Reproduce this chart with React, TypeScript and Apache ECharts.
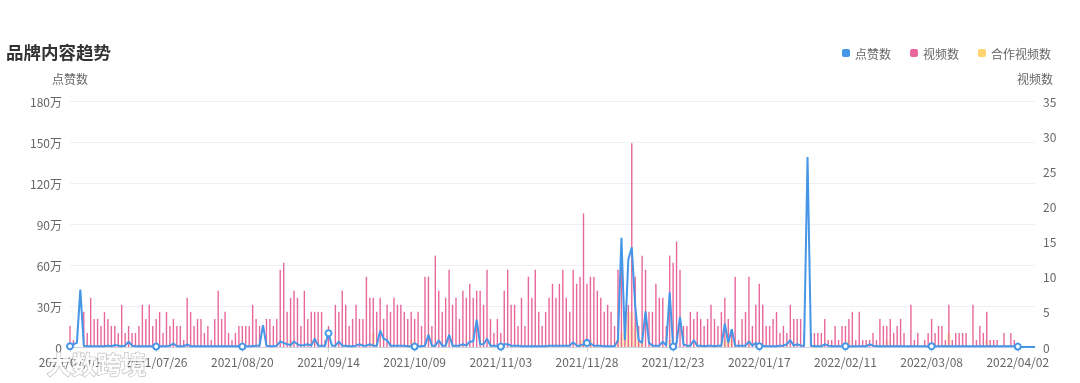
import React, { useEffect, useRef } from "react";
import * as echarts from "echarts";

const START_DATE = "2021-07-01";
const DAY_COUNT = 281;

// 视频数 (right axis), one value per day
const videoCounts: number[] = [
  3, 1, 0, 0, 5, 2, 7, 4, 4, 3,
  5, 4, 3, 3, 2, 6, 2, 3, 2, 2,
  3, 6, 4, 6, 3, 4, 5, 2, 5, 3,
  4, 3, 3, 1, 7, 5, 3, 4, 4, 2,
  3, 1, 4, 8, 4, 5, 2, 1, 2, 3,
  3, 3, 3, 6, 4, 3, 0, 4, 4, 3,
  4, 11, 12, 5, 7, 8, 7, 3, 8, 4,
  5, 5, 5, 5, 1, 3, 0, 6, 5, 8,
  6, 3, 4, 6, 4, 4, 10, 7, 7, 5,
  7, 4, 6, 5, 7, 6, 6, 5, 4, 5,
  4, 5, 3, 10, 10, 3, 13, 8, 5, 7,
  11, 6, 7, 4, 8, 7, 9, 7, 8, 8,
  6, 11, 4, 2, 4, 2, 8, 11, 6, 6,
  3, 7, 3, 10, 7, 11, 5, 3, 5, 7,
  9, 7, 9, 11, 7, 5, 11, 9, 10, 19,
  9, 10, 10, 8, 7, 5, 6, 5, 3, 11,
  12, 5, 6, 29, 10, 3, 13, 11, 5, 5,
  9, 7, 7, 3, 13, 12, 15, 11, 3, 3,
  5, 4, 5, 4, 3, 4, 6, 4, 3, 5,
  7, 4, 2, 10, 1, 4, 5, 10, 3, 6,
  9, 6, 3, 3, 4, 5, 2, 3, 2, 6,
  4, 4, 4, 2, 0, 2, 2, 2, 2, 4,
  1, 1, 3, 1, 3, 3, 4, 5, 1, 5,
  1, 1, 1, 2, 1, 4, 3, 3, 4, 2,
  3, 4, 2, 0, 6, 1, 2, 0, 1, 2,
  4, 2, 3, 3, 1, 6, 1, 2, 2, 2,
  2, 0, 6, 1, 3, 2, 5, 1, 1, 1,
  0, 2, 0, 2, 1, 0, 0, 0, 0, 0,
  0,
];

// 合作视频数 (right axis)
const coopCounts: number[] = [
  0, 0, 0, 0, 0, 0, 0, 0, 0, 0,
  0, 0, 0, 0, 0, 0, 0, 0, 0, 0,
  0, 0, 0, 0, 0, 0, 0, 0, 0, 0,
  0, 0, 0, 0, 0, 0, 0, 0, 0, 0,
  0, 0, 0, 0, 0, 0, 0, 0, 0, 0,
  0, 0, 0, 0, 0, 0, 0, 0, 0, 0,
  0, 0, 0, 0, 1, 0, 0, 0, 0, 0,
  0, 0, 0, 0, 0, 0, 0, 0, 0, 0,
  0, 0, 0, 0, 0, 0, 0, 0, 2, 0,
  0, 0, 0, 0, 0, 0, 0, 0, 0, 1,
  0, 0, 0, 0, 0, 0, 0, 0, 0, 0,
  0, 0, 0, 0, 0, 0, 0, 0, 0, 0,
  0, 0, 0, 0, 0, 0, 0, 0, 0, 0,
  0, 0, 0, 0, 0, 0, 0, 0, 0, 0,
  0, 0, 0, 0, 0, 0, 0, 0, 1, 1,
  1, 1, 0, 0, 0, 0, 0, 0, 0, 1,
  2, 4, 5, 5, 3, 1, 1, 0, 0, 0,
  0, 0, 0, 0, 1, 0, 0, 0, 0, 0,
  0, 0, 0, 0, 0, 0, 0, 0, 0, 0,
  1, 1, 1, 0, 0, 0, 0, 1, 0, 0,
  0, 0, 0, 0, 0, 0, 0, 0, 0, 0,
  0, 0, 0, 0, 0, 0, 0, 0, 0, 0,
  0, 0, 0, 0, 0, 0, 1, 0, 0, 0,
  0, 0, 0, 0, 0, 0, 0, 1, 0, 0,
  0, 0, 0, 0, 0, 0, 0, 0, 0, 0,
  0, 0, 0, 0, 0, 2, 0, 0, 0, 0,
  0, 0, 0, 0, 0, 0, 1, 0, 0, 0,
  0, 0, 0, 0, 0, 0, 0, 0, 0, 0,
  0,
];

// 点赞数 in 万 (left axis)
const likes: number[] = [
  0.5, 2, 3, 42, 1, 0.5, 0.5, 0.5, 0.5, 0.5,
  0.5, 1, 0.5, 1.5, 1, 0.5, 1, 4, 1, 0.5,
  0.5, 0.5, 0.5, 0.5, 0.5, 0.3, 0.5, 0.5, 0.5, 1,
  2.5, 0.5, 0.5, 0.5, 2, 0.5, 0.5, 0.5, 0.5, 0.5,
  0.5, 0.5, 0.5, 0.5, 0.5, 0.5, 0.5, 0.5, 0.5, 0.5,
  0.3, 0.5, 0.5, 0.5, 1, 1, 16, 1, 0.5, 0.5,
  1, 4, 3, 2, 1.5, 4, 2, 1, 1.5, 2,
  1, 6, 1, 1, 1, 10, 1, 1, 4, 1,
  1, 0.5, 0.5, 1, 2, 1, 1, 2, 1, 1,
  12, 6, 5, 1, 1, 1, 1, 1, 0.5, 0.5,
  0.3, 0.5, 0.5, 1, 9, 1, 1, 5, 1, 1,
  9, 1, 1, 1, 2, 1, 4, 4, 20, 2,
  2, 6, 1, 1, 1, 0.3, 2, 2, 1, 1,
  1, 0.5, 0.5, 0.5, 0.5, 0.5, 0.5, 0.5, 0.5, 1,
  1, 1, 1, 1, 1, 1, 3.5, 1, 1, 2,
  3, 2.5, 1, 1, 1, 0.5, 0.5, 0.5, 0.5, 5,
  80, 5, 64, 73, 30, 5, 3, 26, 3, 1,
  1, 1, 4, 1, 40, 0.3, 3, 22, 2, 1,
  1, 5, 1, 1, 0.5, 1, 1, 0.5, 1, 1,
  17, 3, 13, 1, 1, 1, 1, 4, 1, 3,
  0.5, 1, 0.5, 0.5, 0.5, 0.5, 1, 1, 2, 5,
  1, 2, 1, 1, 139, 1, 0.5, 0.5, 0.5, 2,
  1, 0.5, 0.5, 0.5, 0.5, 0.5, 0.3, 0.5, 0.5, 0.5,
  0.5, 0.5, 2, 1, 0.5, 0.5, 0.5, 0.5, 0.5, 0.5,
  0.5, 0.5, 0.5, 0.5, 0.5, 0.5, 0.5, 0.5, 0.5, 0.3,
  0.5, 0.5, 0.5, 0.5, 0.5, 0.5, 0.5, 0.5, 0.5, 0.5,
  0.5, 0.5, 0.5, 0.5, 0.5, 0.5, 0.5, 0.5, 0.5, 0.5,
  0.5, 0.5, 0.5, 0.5, 0.5, 0.3, 0, 0, 0, 0,
  0,
];

const leftTicks = { min: 0, max: 180, interval: 30 };
const rightTicks = { min: 0, max: 35, interval: 5 };

function buildDates(start: string, count: number): string[] {
  const out: string[] = [];
  const d = new Date(start + "T00:00:00Z");
  for (let i = 0; i < count; i++) {
    const y = d.getUTCFullYear();
    const m = String(d.getUTCMonth() + 1).padStart(2, "0");
    const day = String(d.getUTCDate()).padStart(2, "0");
    out.push(`${y}/${m}/${day}`);
    d.setUTCDate(d.getUTCDate() + 1);
  }
  return out;
}

const FONT = '"Noto Sans CJK SC", "Noto Sans", sans-serif';
const BLUE = "#4596E6";
const PINK = "#E8679B";
const YELLOW = "#FFD36E";

export default function App() {
  const ref = useRef<HTMLDivElement>(null);
  useEffect(() => {
    if (!ref.current) return;
    const chart = echarts.init(ref.current, undefined, { renderer: "svg" });
    const dates = buildDates(START_DATE, DAY_COUNT);
    chart.setOption({
      animation: false,
      textStyle: { fontFamily: FONT },
      title: {
        text: "品牌内容趋势",
        left: 1,
        top: 38,
        textStyle: { fontSize: 17.5, fontWeight: "bold", color: "#333", fontFamily: FONT },
      },
      legend: {
        data: [
          { name: "点赞数", itemStyle: { color: BLUE } },
          { name: "视频数", itemStyle: { color: PINK } },
          { name: "合作视频数", itemStyle: { color: YELLOW, opacity: 1 } },
        ],
        right: 24,
        top: 42,
        icon: "roundRect",
        itemWidth: 8,
        itemHeight: 8,
        itemGap: 19,
        textStyle: { fontSize: 12, color: "#666", fontFamily: FONT },
      },
      grid: { left: 70, right: 45, top: 101, bottom: 36, containLabel: false },
      xAxis: [
        {
          type: "category",
          data: dates,
          boundaryGap: false,
          axisLine: { lineStyle: { color: "#ccd3e0" } },
          axisTick: { show: true, interval: 24, alignWithLabel: true, lineStyle: { color: "#ccd3e0" } },
          axisLabel: { interval: 24, color: "#666", fontSize: 12, fontFamily: FONT },
        },
        {
          type: "category",
          data: dates,
          boundaryGap: false,
          show: false,
        },
      ],
      yAxis: [
        {
          type: "value",
          name: "点赞数",
          min: leftTicks.min,
          max: leftTicks.max,
          interval: leftTicks.interval,
          nameGap: 17,
          nameTextStyle: { color: "#666", fontSize: 12, fontFamily: FONT },
          axisLine: { show: false },
          axisTick: { show: false },
          axisLabel: {
            color: "#666",
            fontSize: 12,
            fontFamily: FONT,
            formatter: (v: number) => (v === 0 ? "0" : v + "万"),
          },
          splitLine: { lineStyle: { color: "#eef0f5" } },
        },
        {
          type: "value",
          name: "视频数",
          min: rightTicks.min,
          max: rightTicks.max,
          interval: rightTicks.interval,
          nameGap: 17,
          nameTextStyle: { color: "#666", fontSize: 12, fontFamily: FONT },
          axisLine: { show: false },
          axisTick: { show: false },
          axisLabel: { color: "#666", fontSize: 12, fontFamily: FONT },
          splitLine: { show: false },
        },
      ],
      series: [
        {
          name: "合作视频数",
          type: "bar",
          xAxisIndex: 1,
          yAxisIndex: 1,
          data: coopCounts,
          barWidth: 3.5,
          itemStyle: { color: YELLOW, opacity: 0.45 },
        },
        {
          name: "视频数",
          type: "bar",
          xAxisIndex: 0,
          yAxisIndex: 1,
          data: videoCounts,
          barWidth: 1.4,
          itemStyle: { color: PINK },
        },
        {
          name: "点赞数",
          type: "line",
          xAxisIndex: 0,
          yAxisIndex: 0,
          data: likes,
          symbol: "emptyCircle",
          symbolSize: 6,
          itemStyle: { color: BLUE },
          lineStyle: { width: 2, color: BLUE },
        },
      ],
      graphic: [
        {
          type: "text",
          left: 46,
          top: 350,
          z: 100,
          style: {
            text: "大数跨境",
            fontSize: 25,
            fontWeight: "bold",
            fontFamily: FONT,
            fill: "rgba(255,255,255,0.9)",
            stroke: "rgba(110,110,110,0.45)",
            lineWidth: 1.2,
          },
        },
      ],
    });
    return () => chart.dispose();
  }, []);
  return (
    <div
      ref={ref}
      style={{ position: "fixed", left: 0, top: 0, width: 1080, height: 383 }}
    />
  );
}
